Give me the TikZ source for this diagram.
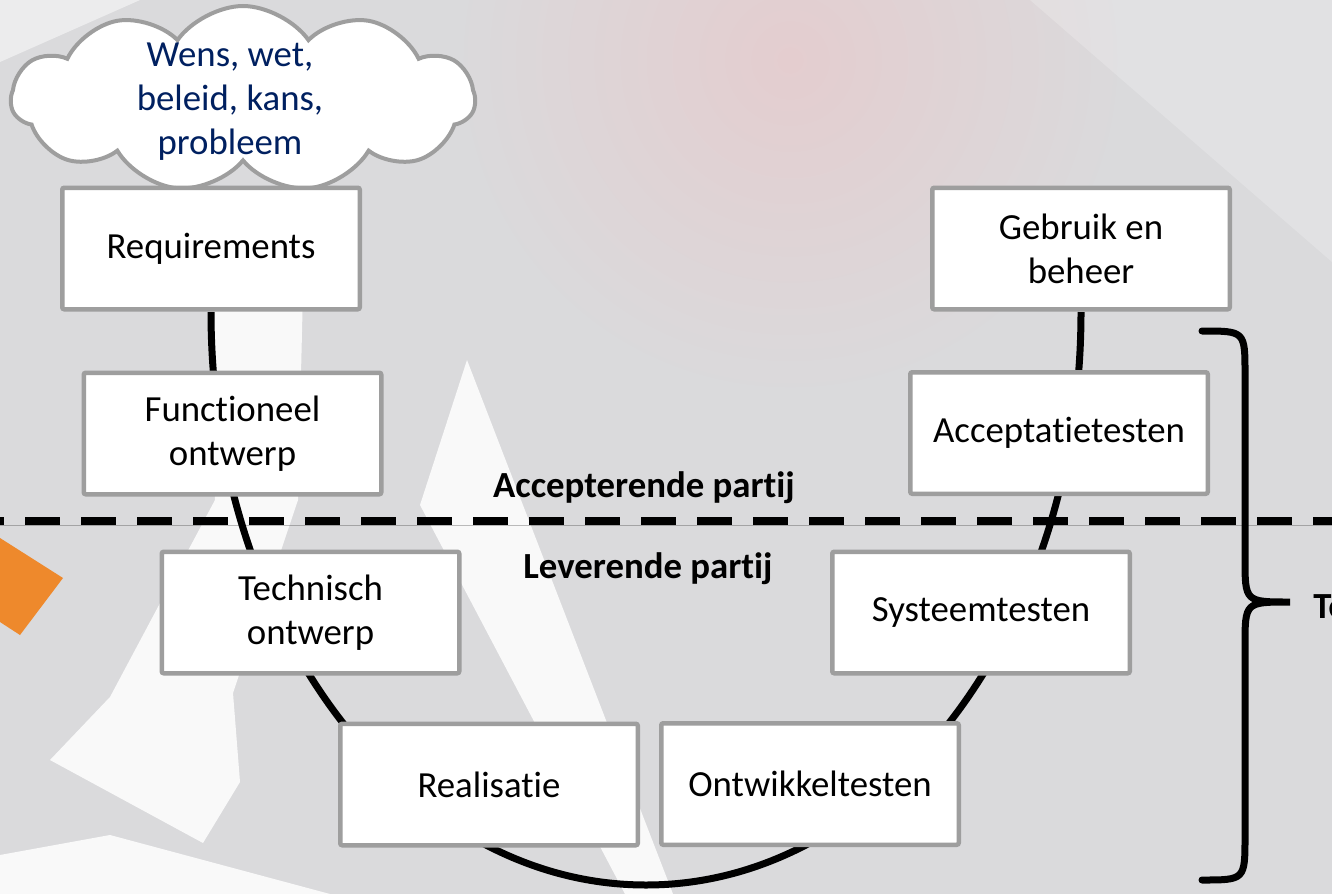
\documentclass[tikz,border=0pt]{standalone}
\usepackage{fontspec}
\setmainfont[Ligatures={NoCommon}]{Carlito}
\usetikzlibrary{shapes.symbols}

\definecolor{bggray}{RGB}{218,218,220}
\definecolor{boxgray}{RGB}{158,158,158}
\definecolor{cloudtext}{RGB}{0,32,96}
\definecolor{vorange}{RGB}{238,137,44}
\definecolor{glow}{RGB}{228,205,207}

\begin{document}
\begin{tikzpicture}[x=0.5pt, y=-0.5pt]
		\tikzstyle{fase} = [draw=boxgray, line width=2.25pt, fill=white, rounded corners=1pt, minimum width=148.75pt, minimum height=60.75pt, align=center, inner sep=2pt, font=\fontsize{18.4}{22}\selectfont]
		\tikzstyle{wolk} = [cloud, cloud puffs=11, cloud puff arc=110, cloud ignores aspect, draw=boxgray, line width=2pt, fill=white, minimum width=232pt, minimum height=93pt, inner sep=0pt]
		\tikzstyle{wolktekst} = [align=center, text=cloudtext, font=\fontsize{18.4}{22}\selectfont]
		\tikzstyle{partij} = [font=\bfseries\fontsize{18.4}{22}\selectfont, anchor=base]
		\tikzstyle{vlijn} = [line width=3.5pt]
		\tikzstyle{logo} = [white, opacity=0.85]

		\useasboundingbox (0,0) rectangle (1332,894);
		\clip (0,0) rectangle (1332,894);

		% achtergrond
		\fill[bggray] (0,0) rectangle (1332,894);
		\shade[inner color=glow, outer color=bggray] (790,60) circle (170pt);
		\fill[white, opacity=0.5] (0,0) -- (140,0) -- (0,62) -- cycle;
		\fill[white, opacity=0.2] (1030,0) -- (1332,0) -- (1332,262) -- cycle;
		\fill[vorange] (0,538) -- (63,578) -- (20,635) -- (0,622) -- cycle;
		\fill[logo] (467,360) -- (420,505) -- (625,894) -- (673,894) -- cycle;
		\fill[logo] (213,290) -- (303,290) -- (298,500) -- (233,693) -- (240,782) -- (203,843) -- (50,760) -- (110,697) -- (215,500) -- cycle;
		\fill[logo] (0,855) -- (110,835) -- (330,894) -- (0,894) -- cycle;

		\node[wolk, label={[wolktekst, xshift=-6.5pt, yshift=-1.5pt]center:{Wens, wet,\\beleid, kans,\\probleem}}] (wens) at (243,99) {};

		% V-model
		\coordinate (dal) at (646,885);
		\draw[vlijn] (211,312) .. controls +(0,316.5) and +(-240,0) .. (dal)
			.. controls +(240,0) and +(0,316.5) .. (1081,312);

		\fill[black, opacity=0.25] (0,524.5) -- (1332,524.5) -- (1332,526) -- (0,526) -- cycle;
		\draw[line width=4pt, dash pattern=on 17.5pt off 10.5pt, dash phase=15.5pt] (0,521) -- (1332,521);

		\node[fase] (req) at (211,248.5) {Requirements};
		\node[fase] (fo) at (232.5,433.5) {Functioneel\\ontwerp};
		\node[fase] (to) at (310.5,612.5) {Technisch\\ontwerp};
		\node[fase] (real) at (489,784.5) {Realisatie};
		\node[fase] (ot) at (810,784) {Ontwikkeltesten};
		\node[fase] (st) at (981,612.5) {Systeemtesten};
		\node[fase] (at) at (1059,433) {Acceptatietesten};
		\node[fase] (geb) at (1081,248.5) {Gebruik en\\beheer};

		\node[partij] (acc) at (644,497) {Accepterende partij};
		\node[partij] (lev) at (648,578) {Leverende partij};

		% accolade
		\coordinate (kb) at (1202,331);
		\coordinate (km) at (1290,602);
		\coordinate (ko) at (1202,880);
		\draw[vlijn, line cap=round] (kb) .. controls (1245,331) .. (1245,374) -- (1245,558)
			.. controls (1245,602) .. (km) .. controls (1245,602) .. (1245,646) -- (1245,836)
			.. controls (1245,880) .. (ko);
		\node[partij, anchor=base west, inner sep=0pt] (test) at (1313,618) {Te};

		\end{tikzpicture}
\end{document}
